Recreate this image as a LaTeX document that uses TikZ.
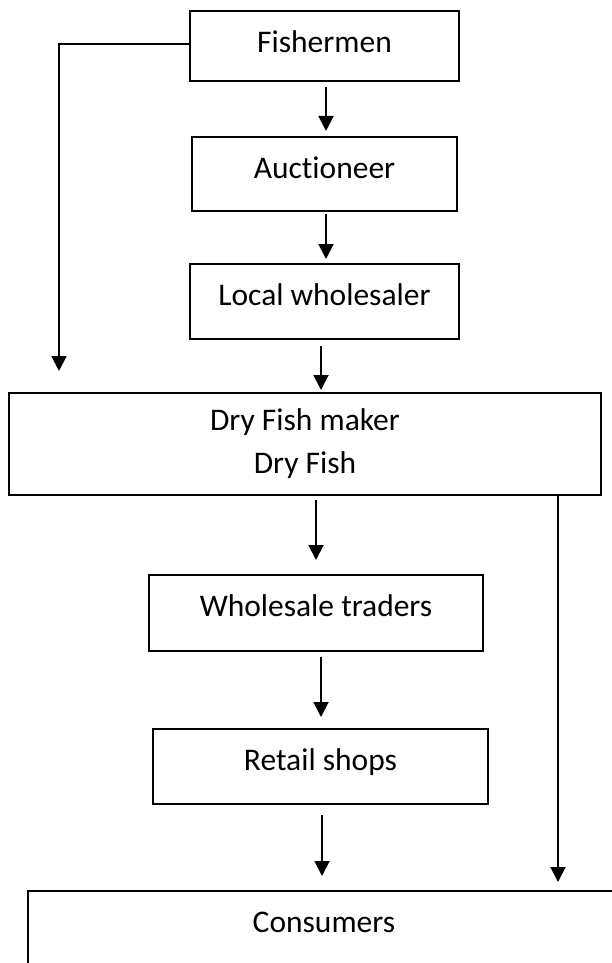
\documentclass[tikz,border=0pt]{standalone}
\usepackage{fontspec}
\setmainfont{Carlito}[Ligatures=NoCommon]
\usetikzlibrary{arrows.meta,calc}
\begin{document}
\begin{tikzpicture}[x=1pt,y=-1pt,
  box/.style={draw, line width=1.9pt, inner xsep=0pt, inner ysep=0pt, anchor=north,
    font=\fontsize{31.5}{44}\selectfont, text height=42pt},
  arr/.style={line width=1.9pt, -{Triangle[length=15pt,width=15pt]}}]
\useasboundingbox (0,0) rectangle (612,963);
\clip (0,0) rectangle (612,963);
\node[box, minimum width=269pt, text depth=28pt] (fish) at (324.5,10) {Fishermen};
\node[box, minimum width=265pt, text depth=32pt] (auc) at (324.5,136) {Auctioneer};
\node[box, minimum width=269pt, text depth=33pt] (lw) at (324.5,263) {Local wholesaler};
\node[draw, line width=1.9pt, inner sep=0pt, minimum width=592pt, minimum height=102pt,
  align=center, font=\fontsize{31.5}{44}\selectfont, anchor=north] (dry) at (305,392)
  {Dry Fish maker\\[-1pt]Dry Fish};
\node[box, minimum width=334pt, text depth=34pt] (wt) at (316,574) {Wholesale traders};
\node[box, minimum width=335pt, text depth=33pt] (ret) at (320.5,728) {Retail shops};
\node[draw, line width=1.9pt, inner xsep=0pt, inner ysep=0pt, anchor=north west,
  minimum width=592pt, font=\fontsize{31.5}{44}\selectfont, text height=42pt, text depth=100pt] (cons) at (27,890) {Consumers};
\draw[arr, shorten <=5pt, shorten >=5pt] (326,0 |- fish.south) -- (326,0 |- auc.north);
\draw[arr, shorten <=2pt, shorten >=4pt] (326,0 |- auc.south) -- (326,0 |- lw.north);
\draw[arr, shorten <=6pt, shorten >=2pt] (321,0 |- lw.south) -- (321,0 |- dry.north);
\draw[arr, shorten <=4pt, shorten >=14pt] (316,0 |- dry.south) -- (316,0 |- wt.north);
\draw[arr, shorten <=5pt, shorten >=11pt] (321,0 |- wt.south) -- (321,0 |- ret.north);
\draw[arr, shorten <=10pt, shorten >=14pt] (322,0 |- ret.south) -- (322,0 |- cons.north);
\draw[arr, shorten >=8pt] (558,0 |- dry.south) -- (558,0 |- cons.north);
\draw[arr, shorten >=21pt] ([yshift=2pt]fish.west) -| (59,0 |- dry.north);
\end{tikzpicture}
\end{document}
